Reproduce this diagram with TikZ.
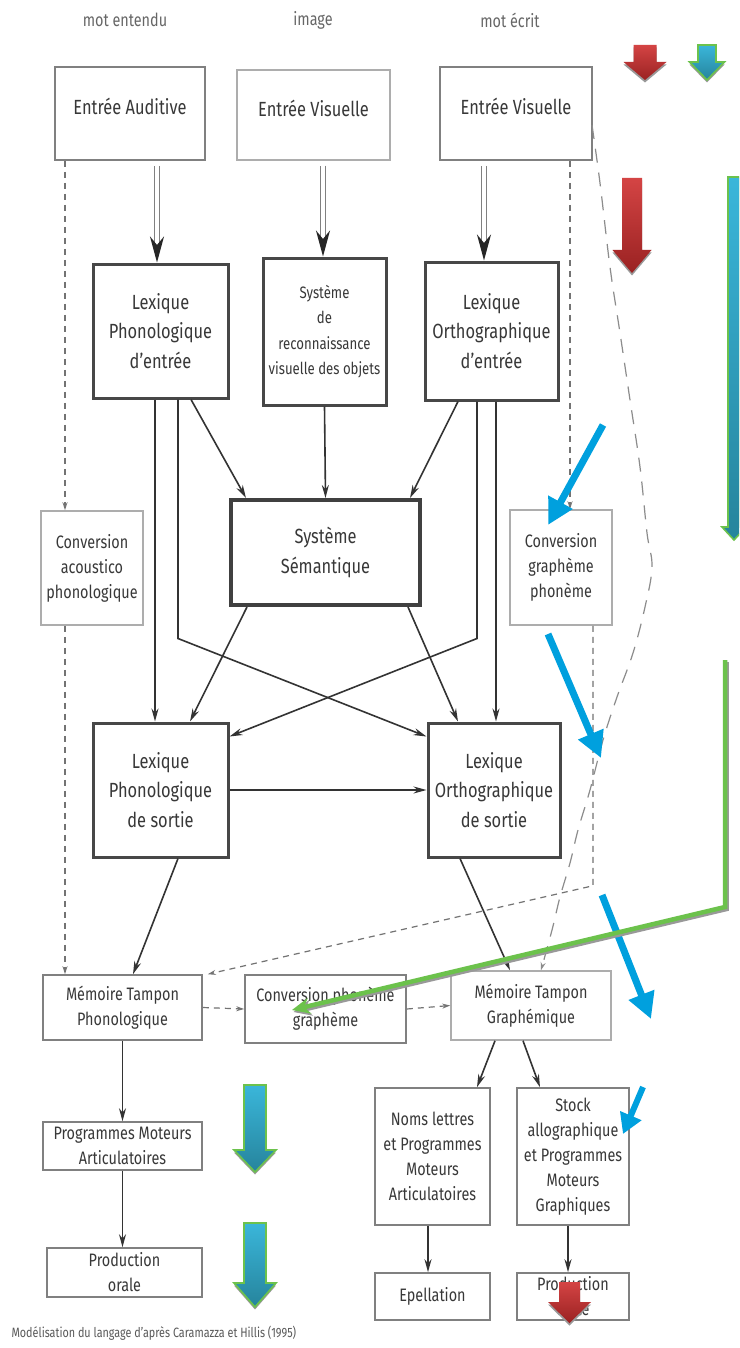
\documentclass[tikz,border=0pt]{standalone}
\usepackage{fontspec}
\setmainfont{Fira Sans}[FakeStretch=0.8]
\usetikzlibrary{arrows.meta,calc}
\definecolor{txt}{HTML}{383838}
\definecolor{redA}{HTML}{D44444}
\definecolor{redB}{HTML}{9A2222}
\definecolor{tealA}{HTML}{3AB6DA}
\definecolor{tealB}{HTML}{26849C}
\definecolor{gline}{HTML}{6CC24C}
\definecolor{cyanB}{HTML}{00A0DE}
\newcommand\blkarrow[7]{%
  \path[#7] (#1-#5/2,#2) -- (#1+#5/2,#2) -- (#1+#5/2,#3) -- (#1+#6/2,#3) -- (#1,#4) -- (#1-#6/2,#3) -- (#1-#5/2,#3) -- cycle;}
\begin{document}
\begin{tikzpicture}[x=1pt,y=-1pt,
  box/.style={draw=black!50,line width=1.6pt,fill=white,inner sep=0pt,align=center,text=txt},
  heavy/.style={draw=black!72,line width=3pt},
  heavier/.style={draw=black!75,line width=4pt},
  light/.style={draw=black!32,line width=1.5pt},
  big/.style={font=\fontsize{20.5}{29.5}\selectfont},
  small/.style={font=\fontsize{18}{25}\selectfont},
  tiny/.style={font=\fontsize{16.5}{25.5}\selectfont},
  conn/.style={draw=black!80,line width=1.6pt,-{Stealth[length=13pt,width=7pt]}},
  dconn/.style={draw=black!55,line width=1.2pt,dash pattern=on 6pt off 5pt,-{Stealth[length=8pt,width=5pt]}},
  dbl/.style={draw=black!50,line width=0.9pt,double=white,double distance=4pt,shorten <=5pt,shorten >=14pt},
  dbltip/.style={draw=white,line width=2pt,shorten <=5pt,-{Stealth[length=26pt,width=14pt,black!85]}},
  redarr/.style={top color=redA,bottom color=redB},
  tealarr/.style={top color=tealA,bottom color=tealB,draw=gline,line width=1.6pt},
  shadow/.style={fill=black!40,yshift=-2.5pt},
  bluearr/.style={draw=cyanB,line width=7pt,-{Triangle[length=26pt,width=26pt]}},
  greenarr/.style={draw=gline,line width=4.5pt,line join=miter,-{Stealth[length=18pt,width=16pt]}},
]
\useasboundingbox (0,0) rectangle (739,1348);
\clip (0,0) rectangle (739,1348);
\fill[white] (0,0) rectangle (739,1348);

% top labels
\node[text=black!60,font=\fontsize{18}{20}\selectfont] (l1) at (125,20) {mot entendu};
\node[text=black!60,font=\fontsize{18}{20}\selectfont] (l2) at (313,20) {image};
\node[text=black!60,font=\fontsize{18}{20}\selectfont] (l3) at (510,20) {mot écrit};

% boxes
\node[box,big,minimum width=150,minimum height=93] (ea) at (130,113.5) {Entrée Auditive\\[-16pt]};
\node[box,big,light,minimum width=153,minimum height=90] (evi) at (313.5,115) {Entrée Visuelle\\[-16pt]};
\node[box,big,minimum width=152,minimum height=93] (eve) at (516,113.5) {Entrée Visuelle\\[-16pt]};

\node[box,big,heavy,minimum width=135,minimum height=134] (lpe) at (160.5,331) {Lexique\\Phonologique\\d’entrée};
\node[box,tiny,heavy,minimum width=123,minimum height=147] (srvo) at (324.5,331.5) {Système\\de\\reconnaissance\\visuelle des objets};
\node[box,big,heavy,minimum width=133,minimum height=138] (loe) at (491.5,331) {Lexique\\Orthographique\\d’entrée};

\node[box,big,heavier,minimum width=189,minimum height=105] (ss) at (325.5,552.5) {Système\\Sémantique};
\node[box,small,light,minimum width=102,minimum height=114] (cap) at (92,568) {Conversion\\acoustico\\phonologique};
\node[box,small,light,minimum width=102,minimum height=115] (cgp) at (561,567.5) {Conversion\\graphème\\phonème};

\node[box,big,heavy,minimum width=135,minimum height=134] (lps) at (160.5,790) {Lexique\\Phonologique\\de sortie};
\node[box,big,heavy,minimum width=132,minimum height=134] (los) at (494,790) {Lexique\\Orthographique\\de sortie};

\node[box,small,minimum width=159,minimum height=65] (mtp) at (122.5,1007.5) {Mémoire Tampon\\Phonologique};
\node[box,small,minimum width=161,minimum height=68] (cpg) at (325.5,1009) {Conversion phonème\\graphème};
\node[box,small,light,minimum width=160,minimum height=69] (mtg) at (531,1005.5) {Mémoire Tampon\\Graphémique};

\node[box,small,minimum width=159,minimum height=48] (pma) at (122.5,1146) {Programmes Moteurs\\Articulatoires};
\node[box,small,minimum width=155,minimum height=49] (po1) at (124.5,1272.5) {Production\\orale};

\node[box,small,minimum width=115,minimum height=137] (noms) at (432.5,1156.5) {Noms lettres\\et Programmes\\Moteurs\\Articulatoires};
\node[box,small,minimum width=112,minimum height=137] (stock) at (573,1156.5) {Stock\\allographique\\et Programmes\\Moteurs\\Graphiques};
\node[box,small,minimum width=115,minimum height=47] (epel) at (432.5,1296.5) {Epellation};
\node[box,small,minimum width=112,minimum height=47] (po2) at (573,1296.5) {Production\\orale};

\node[anchor=west,text=black!65,font=\fontsize{13.5}{15}\selectfont] (cap2) at (8,1333) {Modélisation du langage d’après Caramazza et Hillis (1995)};

% double arrows from inputs
\draw[dbl] ([xshift=27]ea.south) -- ([xshift=-3.5]lpe.north);
\draw[dbltip] ([xshift=27]ea.south) -- ([xshift=-3.5]lpe.north);
\draw[dbl] ([xshift=9.5]evi.south) -- ([xshift=-1.5]srvo.north);
\draw[dbltip] ([xshift=9.5]evi.south) -- ([xshift=-1.5]srvo.north);
\draw[dbl] ([xshift=-32]eve.south) -- ([xshift=-7.5]loe.north);
\draw[dbltip] ([xshift=-32]eve.south) -- ([xshift=-7.5]loe.north);

% solid connectors
\draw[conn] ([xshift=30.5]lpe.south) -- ([xshift=-79.5]ss.north);
\draw[conn] (srvo.south) -- (ss.north);
\draw[conn] ([xshift=-33.5]loe.south) -- ([xshift=84.5]ss.north);
\draw[conn] ([xshift=-5.5]lpe.south) -- ([xshift=-5.5]lps.north);
\draw[conn] ([xshift=17.5]lpe.south) -- ++(0,239) -- ([yshift=-15]los.north west);
\draw[conn] ([xshift=-14.5]loe.south) -- ++(0,237) -- ([yshift=-15]lps.north east);
\draw[conn] ([xshift=4.5]loe.south) -- ([xshift=2]los.north);
\draw[conn] ([xshift=-78.5]ss.south) -- ([xshift=29.5]lps.north);
\draw[conn] ([xshift=82.5]ss.south) -- ([xshift=-36]los.north);
\draw[conn] (lps.east) -- (los.west);
\draw[conn] ([xshift=17.5]lps.south) -- ([xshift=10.5]mtp.north);
\draw[conn] ([xshift=-34]los.south) -- ([xshift=-21]mtg.north);
\draw[conn] (mtp.south) -- (pma.north);
\draw[conn] (pma.south) -- (pma.south |- po1.north);
\draw[conn] ([xshift=-36]mtg.south) -- ([xshift=44.5]noms.north);
\draw[conn] ([xshift=-8]mtg.south) -- ([xshift=-33]stock.north);
\draw[conn] ([xshift=-4.5]noms.south) -- ([xshift=-4.5]epel.north);
\draw[conn] ([xshift=-5]stock.south) -- ([xshift=-5]po2.north);

% dashed connectors
\draw[dconn] ([xshift=-65]ea.south) -- ([xshift=-27]cap.north);
\draw[dconn] ([xshift=-27]cap.south) -- ([xshift=-57.5]mtp.north);
\draw[dconn] ([xshift=54]eve.south) -- ([xshift=9]cgp.north);
\draw[dconn] ([xshift=32]cgp.south) -- ++(0,260) -- ([xshift=5]mtp.north east);
\draw[dconn] (mtp.east) -- (cpg.west);
\draw[dconn] (cpg.east) -- (mtg.west);
\coordinate (cs) at (592,125);
\draw[draw=black!45,line width=1.2pt,dash pattern=on 14pt off 10pt,-{Stealth[length=8pt,width=5pt]}]
  plot[smooth,tension=0.6] coordinates {(cs) (600,183) (610,267) (620,333) (630,400) (640,467) (647,533) (652,567) (645,607) (633,653) (617,697) (603,740) (590,790) (578,830) (570,863) (560,897) (552,930) ([xshift=10]mtg.north)};

% coloured annotation arrows
\blkarrow{645}{45}{62}{80}{23}{43}{shadow}
\blkarrow{645}{45}{62}{80}{23}{43}{redarr}
\blkarrow{707}{45}{62}{80}{18}{35}{shadow}
\blkarrow{707}{45}{62}{80}{18}{35}{tealarr}
\blkarrow{632}{178}{250}{273}{20}{39}{shadow}
\blkarrow{632}{178}{250}{273}{20}{39}{redarr}
\blkarrow{734}{177}{527}{540}{12}{24}{tealarr}
\blkarrow{255}{1085}{1150}{1172}{22}{42}{shadow}
\blkarrow{255}{1085}{1150}{1172}{22}{42}{tealarr}
\blkarrow{255}{1223}{1283}{1307}{22}{42}{shadow}
\blkarrow{255}{1223}{1283}{1307}{22}{42}{tealarr}
\blkarrow{569.5}{1282}{1302}{1323}{21}{43}{shadow}
\blkarrow{569.5}{1282}{1302}{1323}{21}{43}{redarr}

\draw[bluearr] (603,425) -- (548,525);
\draw[bluearr] (548,634) -- (601,758);
\draw[bluearr] (602,895) -- (651,1019);
\draw[bluearr,line width=6pt,-{Triangle[length=20pt,width=22pt]}] (643,1087) -- (623,1134);

\draw[greenarr,draw=black!40,xshift=1.5pt,yshift=-2pt] (725,660) -- (725,907) -- (292,1010);
\draw[greenarr] (725,660) -- (725,907) -- (292,1010);
\end{tikzpicture}
\end{document}
